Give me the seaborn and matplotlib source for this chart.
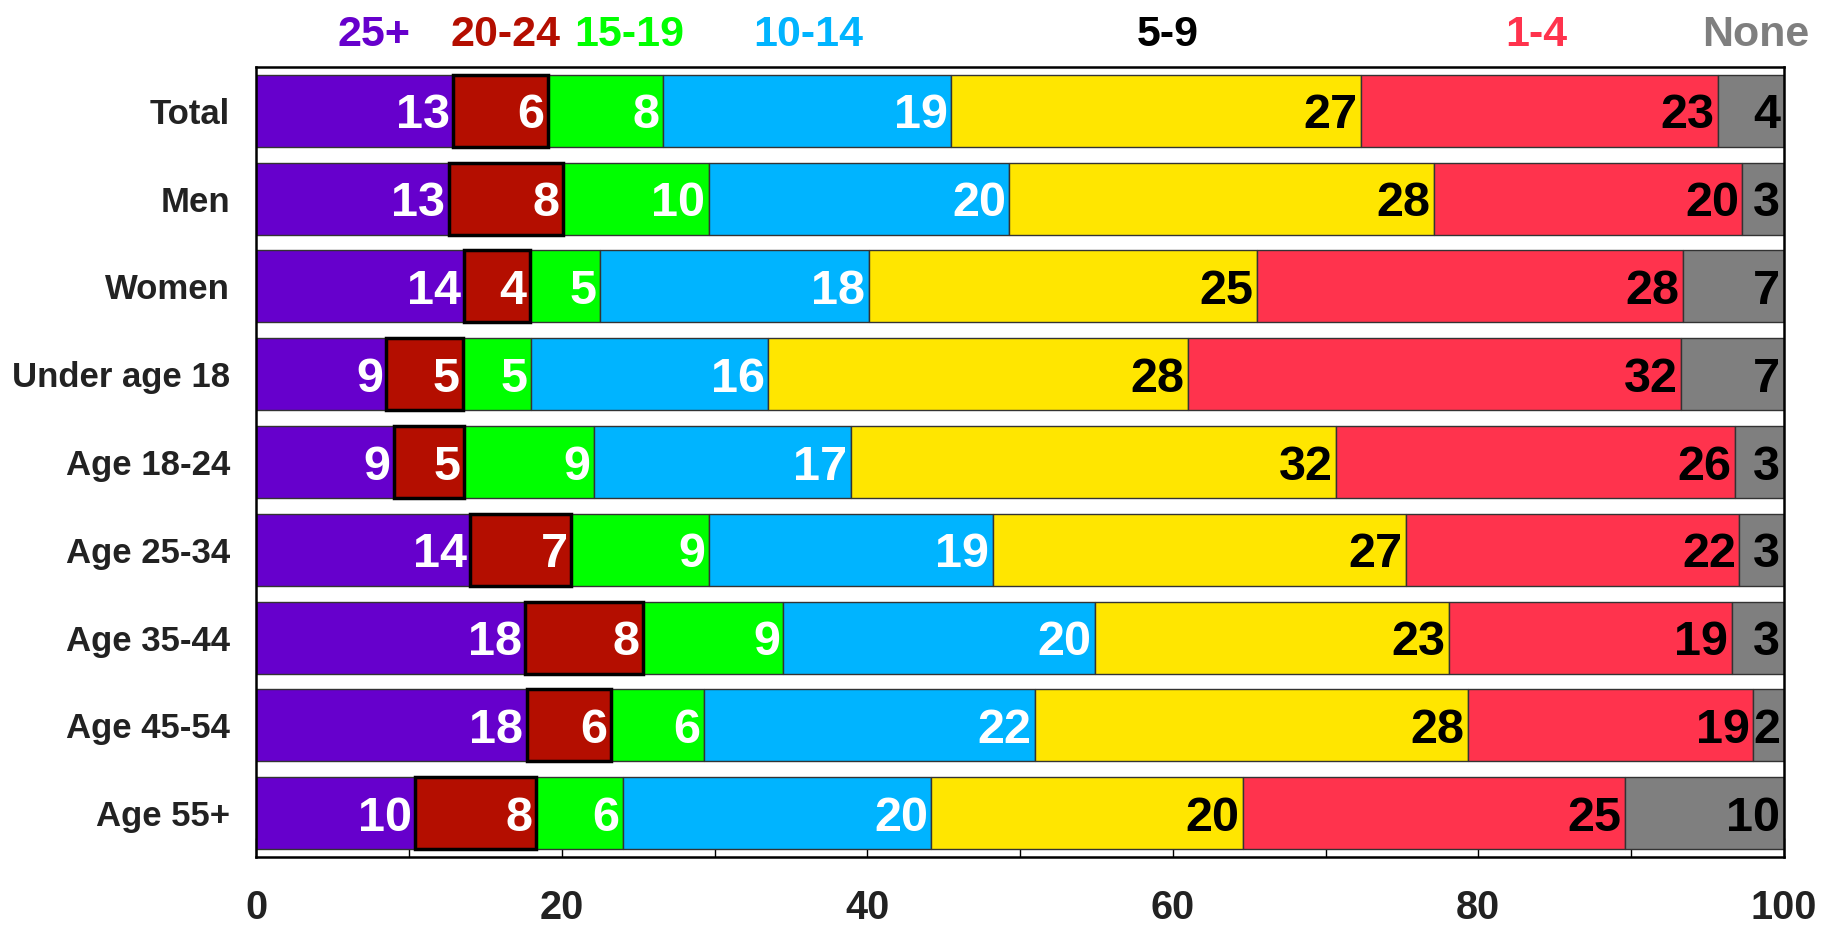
import numpy as np
import pandas as pd
import seaborn as sns
import matplotlib.pyplot as plt
from matplotlib.ticker import MultipleLocator
import matplotlib.transforms as mtransforms

categories = ["Total", "Men", "Women", "Under age 18", "Age 18-24",
              "Age 25-34", "Age 35-44", "Age 45-54", "Age 55+"]
groups = ["25+", "20-24", "15-19", "10-14", "5-9", "1-4", "None"]

share_25plus = [12.9, 12.6, 13.6, 8.5, 9.0, 14.0, 17.6, 17.7, 10.4]
share_20_24 = [6.2, 7.5, 4.3, 5.0, 4.6, 6.6, 7.7, 5.5, 7.9]
share_15_19 = [7.5, 9.5, 4.6, 4.5, 8.5, 9.0, 9.2, 6.1, 5.7]
share_10_14 = [18.9, 19.7, 17.6, 15.5, 16.8, 18.6, 20.4, 21.7, 20.2]
share_5_9 = [26.8, 27.8, 25.4, 27.5, 31.8, 27.1, 23.2, 28.3, 20.4]
share_1_4 = [23.4, 20.2, 27.9, 32.3, 26.1, 21.8, 18.5, 18.7, 25.0]
share_none = [4.3, 2.7, 6.6, 6.7, 3.2, 2.9, 3.4, 2.0, 10.4]

colors = ["#6600CC", "#B40E00", "#00FF00", "#00B4FF", "#FFE600", "#FF334D", "#7F7F7F"]
label_colors = ["white", "white", "white", "white", "black", "black", "black"]
key_colors = ["#6600CC", "#B40E00", "#00FF00", "#00B4FF", "black", "#FF334D", "#7F7F7F"]
key_x = [7.7, 16.3, 24.4, 36.1, 59.7, 83.8, 98.2]

plt.rcParams['font.family'] = ['Liberation Sans', 'DejaVu Sans']
plt.rcParams['font.weight'] = 'bold'

df = pd.DataFrame({"category": categories, "25+": share_25plus, "20-24": share_20_24,
                   "15-19": share_15_19, "10-14": share_10_14, "5-9": share_5_9,
                   "1-4": share_1_4, "None": share_none})

fig = plt.figure(figsize=(18.33, 9.27), dpi=100)
ax = fig.add_axes([0.1399, 0.0755, 0.9731 - 0.1399, 0.9277 - 0.0755])

# stacked bars: draw each group with seaborn, then shift patches to their running total
left = np.zeros(len(categories))
for i, g in enumerate(groups):
    n0 = len(ax.patches)
    thick = g == "20-24"
    sns.barplot(data=df, x=g, y="category", orient="h", color=colors[i],
                saturation=1, width=0.82, errorbar=None, ax=ax,
                edgecolor="black" if thick else "#333333",
                linewidth=2.5 if thick else 1.0)
    vals = df[g].to_numpy()
    for j, p in enumerate(ax.patches[n0:]):
        p.set_x(left[j])
        p.set_zorder(3 if thick else 2)
        ax.annotate(str(int(vals[j] + 0.5)), xy=(left[j] + vals[j], j),
                    xytext=(-2.5, 0), textcoords="offset points",
                    ha="right", va="center_baseline", fontsize=35,
                    fontweight="bold", color=label_colors[i], zorder=5)
    left += vals

trans = mtransforms.blended_transform_factory(ax.transData, ax.transAxes)
for g, x, c in zip(groups, key_x, key_colors):
    ax.text(x, 1.0456, g, transform=trans, ha="center", va="center_baseline",
            fontsize=31, fontweight="bold", color=c)

ax.set_xlim(0, 100)
ax.set_ylim(8.5, -0.5)
ax.set_xlabel("")
ax.set_ylabel("")
ax.xaxis.set_major_locator(MultipleLocator(20))
ax.xaxis.set_minor_locator(MultipleLocator(10))
ax.tick_params(axis="x", which="major", direction="in", length=13.7, width=1,
               pad=23, labelsize=28.5, labelcolor="#222222")
ax.tick_params(axis="x", which="minor", direction="in", length=6.5, width=1)
ax.tick_params(axis="y", length=0, pad=19, labelsize=25, labelcolor="#222222")
for lab in ax.get_xticklabels() + ax.get_yticklabels():
    lab.set_fontweight("bold")
for s in ax.spines.values():
    s.set_linewidth(1.8)
    s.set_color("black")
    s.set_zorder(6)

fig.savefig("out.png", dpi=100)
